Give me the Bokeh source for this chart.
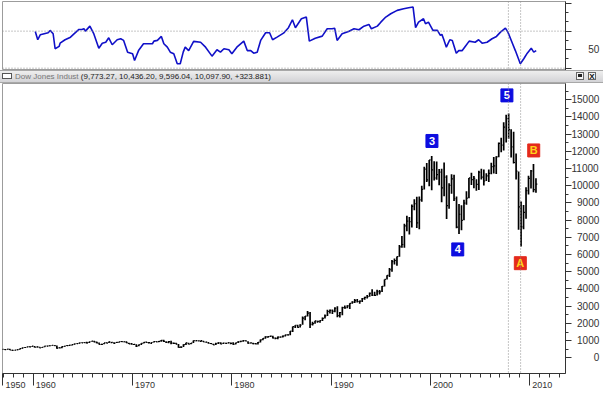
from bokeh.plotting import figure
from bokeh.models import (ColumnDataSource, Range1d, FixedTicker, Span, Div)
from bokeh.layouts import column
from bokeh.core.properties import value
from bokeh.embed import file_html
from bokeh.resources import INLINE

# ---------------- data ----------------
# Dow Jones Industrial Average, quarterly bars, first bar = 1956 Q4
first_quarter = 1956.75
quarter_high = [
    500,
    500, 505, 521, 465,   450, 480, 533, 584,   610, 644, 679, 679,
    686, 656, 650, 622,   680, 705, 726, 735,   726, 712, 616, 653,
    685, 726, 745, 767,   820, 833, 876, 892,   912, 940, 932, 970,
    995, 956, 893, 821,   868, 909, 943, 918,   908, 919, 936, 985,
    952, 968, 873, 863,   811, 792, 773, 842,   904, 950, 920, 893,
    950, 971, 973, 1036,  1051, 963, 979, 987,  891, 870, 806, 674,
    786, 879, 881, 860,   1009, 1011, 1014, 1004, 1000, 936, 918, 856,
    820, 878, 907, 901,   878, 870, 893, 897,   903, 876, 965, 1000,
    1016, 1024, 967, 892, 882, 869, 926, 1070,  1145, 1248, 1260, 1287,
    1286, 1183, 1239, 1244, 1299, 1336, 1372, 1553, 1821, 1893, 1919, 1956,
    2405, 2429, 2722, 2662, 2100, 2157, 2158, 2184, 2347, 2523, 2792, 2810,
    2810, 2935, 3000, 2663, 2972, 3036, 3055, 3169, 3290, 3413, 3413, 3333,
    3478, 3554, 3652, 3794, 3978, 3839, 3953, 3936, 4172, 4556, 4801, 5216,
    5683, 5778, 5895, 6561, 7085, 7796, 8259, 8178, 8906, 9211, 9367, 9374,
    10006, 11107, 11326, 11497, 11723, 11425, 11401, 10977,
    10983, 11350, 10610, 10137, 10673, 10635, 9380, 8932,
    8869, 9188, 9686, 10454, 10753, 10570, 10379, 10868,
    10984, 10940, 10720, 10940, 11335, 11670, 11718, 12510,
    12786, 13692, 14121, 14198, 13279, 13136, 11867, 10831,
    9088, 8877, 9917, 10580, 10907, 11258, 10436,
]
quarter_low = [
    466,
    455, 470, 456, 419,   436, 440, 475, 530,   574, 598, 616, 627,
    599, 599, 580, 566,   610, 672, 679, 700,   689, 535, 557, 558,
    646, 683, 694, 711,   766, 800, 822, 856,   857, 840, 862, 930,
    912, 847, 772, 744,   786, 847, 859, 850,   825, 861, 883, 918,
    899, 869, 801, 769,   744, 631, 669, 753,   830, 873, 839, 797,
    889, 925, 910, 930,   922, 869, 851, 788,   803, 791, 584, 577,
    632, 739, 784, 784,   858, 958, 961, 924,   919, 898, 839, 800,
    742, 750, 805, 785,   807, 822, 836, 796,   759, 777, 865, 908,
    934, 960, 824, 836,   795, 788, 777, 889,   1027, 1113, 1163, 1215,
    1130, 1086, 1087, 1163, 1184, 1242, 1297, 1310, 1502, 1736, 1755, 1768,
    1927, 2190, 2398, 1739, 1879, 1979, 2037, 2038, 2144, 2280, 2437, 2570,
    2543, 2645, 2365, 2344, 2470, 2853, 2878, 2836, 3136, 3181, 3220, 3136,
    3241, 3370, 3449, 3547, 3593, 3593, 3624, 3674, 3832, 4138, 4548, 4703,
    5000, 5420, 5346, 5869, 6391, 6391, 7362, 7161, 7580, 8574, 7539, 7467,
    9066, 9787, 10213, 9976, 9731, 10300, 10350, 10034,
    9047, 9389, 8062, 8659, 9529, 9120, 7532, 7197,
    7416, 7992, 8896, 9275, 10048, 9853, 9708, 9749,
    10368, 10012, 10270, 10215, 10661, 10706, 10683, 11653,
    11939, 12050, 12518, 12724, 11634, 11287, 10365, 7449,
    6470, 7465, 8087, 9487, 9835, 9614, 9596,
]
quarter_close = [
    499,
    474, 503, 456, 435,   446, 478, 532, 584,   602, 644, 632, 679,
    616, 641, 580, 616,   677, 684, 701, 731,   706, 561, 579, 652,
    682, 707, 743, 763,   813, 831, 875, 874,   889, 868, 931, 969,
    924, 870, 774, 785,   865, 860, 927, 905,   840, 898, 935, 943,
    935, 873, 813, 800,   785, 683, 760, 838,   904, 891, 887, 890,
    940, 929, 953, 1020,  951, 891, 947, 851,   846, 802, 608, 616,
    768, 878, 794, 852,   999, 1002, 990, 1004, 919, 916, 847, 831,
    757, 819, 865, 805,   862, 842, 879, 839,   786, 868, 932, 964,
    1004, 977, 850, 875,  823, 812, 896, 1046,  1130, 1222, 1233, 1259,
    1165, 1132, 1207, 1212, 1267, 1336, 1329, 1547, 1819, 1893, 1768, 1896,
    2305, 2419, 2596, 1939, 1989, 2142, 2113, 2169, 2294, 2441, 2693, 2753,
    2708, 2881, 2453, 2634, 2914, 2907, 3017, 3169, 3236, 3319, 3272, 3301,
    3435, 3516, 3555, 3754, 3636, 3625, 3843, 3834, 4158, 4556, 4789, 5117,
    5587, 5655, 5882, 6448, 6584, 7673, 7945, 7908, 8800, 8952, 7843, 9181,
    9786, 10970, 10337, 11497, 10922, 10448, 10651, 10787,
    9879, 10502, 8848, 10022, 10404, 9243, 7592, 8342,
    7992, 8985, 9275, 10454, 10357, 10435, 10080, 10783,
    10504, 10275, 10569, 10718, 11109, 11150, 11679, 12463,
    12354, 13408, 13896, 13265, 12262, 11350, 10851, 8776,
    7609, 8447, 9712, 10428, 10857, 9774, 10098,
]

# oscillator (upper pane)
osc_year = [
    1960.2, 1960.45, 1960.7, 1961.1, 1961.5, 1961.7, 1962.0, 1962.2, 1962.6, 1962.7,
    1963.2, 1963.75, 1964.1, 1964.6, 1964.9, 1965.1, 1965.25, 1965.7, 1966.1, 1966.6,
    1966.95, 1967.3, 1967.6, 1967.95, 1968.45, 1968.8, 1969.1, 1969.5, 1970.0, 1970.2,
    1970.6, 1971.1, 1972.0, 1972.15, 1972.5, 1972.9, 1973.15, 1973.5, 1973.8, 1974.15,
    1974.5, 1974.8, 1975.1, 1975.3, 1975.65, 1976.15, 1976.85, 1977.35, 1978.0, 1978.5,
    1978.85, 1979.2, 1979.7, 1980.0, 1980.5, 1981.2, 1981.55, 1981.9, 1982.2, 1982.55,
    1982.9, 1983.4, 1983.8, 1984.1, 1984.55, 1985.2, 1985.7, 1986.1, 1986.4, 1987.0,
    1987.5, 1987.8, 1988.4, 1989.1, 1989.6, 1990.1, 1990.35, 1990.6, 1991.1, 1991.75,
    1992.3, 1992.8, 1993.3, 1993.8, 1994.05, 1994.65, 1995.0, 1995.5, 1996.0, 1996.65,
    1997.3, 1997.8, 1998.25, 1998.5, 1998.8, 1999.3, 1999.5, 1999.8, 2000.25, 2000.7,
    2001.0, 2001.15, 2001.35, 2001.6, 2001.95, 2002.2, 2002.6, 2002.85, 2003.2, 2003.5,
    2003.9, 2004.5, 2004.85, 2005.2, 2005.7, 2006.2, 2006.65, 2007.05, 2007.55, 2007.8,
    2008.25, 2008.55, 2009.05, 2009.4, 2009.75, 2010.15, 2010.4, 2010.65,
]
osc_value = [
    69.7, 60.7, 66, 67.2, 68.3, 70.8, 67.2, 51, 53.5, 57,
    60.7, 63.5, 67, 71.8, 71.8, 72.6, 70, 75.4, 67, 51.6,
    57, 58, 62.8, 55.3, 60.7, 61.8, 60, 47.3, 45.5, 38.3,
    49, 56.4, 56.4, 59.2, 60, 64.3, 56.4, 52.7, 47.3, 45.5,
    34.8, 34.8, 47.3, 52.7, 49, 58.9, 58, 52.7, 43, 49.9,
    47.3, 51, 49.9, 45.5, 52.7, 59.2, 49, 49, 46.2, 47.3,
    60, 68.3, 68.3, 60.7, 63.5, 67.8, 73.7, 82.3, 73.7, 83.4,
    85.2, 59.2, 62.4, 64.6, 72.6, 72.6, 73.2, 60, 67.2, 69.7,
    72.6, 71.5, 75.4, 77.2, 72.6, 75.4, 79.7, 85.2, 88.8, 92.4,
    94.2, 95.3, 96, 73.7, 79.7, 83.4, 78, 79.7, 70.8, 70.8,
    65.4, 66.5, 60.7, 52.7, 60.7, 60, 46.2, 49, 49, 53.5,
    59.2, 58, 60.7, 57, 58, 61.8, 64.3, 68.9, 73.2, 68.9,
    57, 49, 34.8, 40.2, 46.2, 51.6, 47.3, 49,
]
osc_levels = [70, 30]
osc_ticks = [30, 50, 70, 100]
osc_minor_ticks = [40, 60, 80, 90]
osc_labelled = [50]

price_ticks = list(range(0, 16000, 1000))
price_minor_ticks = list(range(500, 16500, 1000))

decade_ticks = [1950, 1960, 1970, 1980, 1990, 2000, 2010]
decade_labels = ["1950", "1960", "1970", "1980", "1990", "2000", "2010"]
year_ticks = list(range(1957, 2014))

marker_years = [2007.85, 2009.08]

wave_labels = ["3", "4", "5", "A", "B"]
wave_year = [2000.15, 2002.75, 2007.7, 2009.05, 2010.4]
wave_price = [12600, 6300, 15250, 5500, 12050]
wave_fill = ["#0d0de0", "#0d0de0", "#0d0de0", "#e42a1c", "#e42a1c"]
wave_text_color = ["#ffffff", "#ffffff", "#ffffff", "#ffd21a", "#ffd21a"]

title_name = "Dow Jones Indust"
title_values = "(9,773.27, 10,436.20, 9,596.04, 10,097.90, +323.881)"

# ---------------- layout constants ----------------
FONT = "Liberation Sans"
FRAME_W = 563
LEFT = 2
RIGHT = 38
TOTAL_W = LEFT + FRAME_W + RIGHT
x_start, x_end = 1956.9, 2013.6
x_range = Range1d(x_start, x_end)
FIG = "\u2007"   # figure space: same advance as a digit


def pad_right_align(s, n=5):
    return FIG * (n - len(s)) + s


def pad_after_tick(s, n=5):
    # centred label shifted so that the digits start just right of the tick
    return FIG * n + s


def style_axis(ax):
    ax.axis_line_color = "#333333"
    ax.major_tick_line_color = "#333333"
    ax.minor_tick_line_color = "#333333"
    ax.major_tick_in = 0
    ax.minor_tick_in = 0
    ax.major_label_text_font = FONT
    ax.major_label_text_color = "#333333"


# ---------------- upper oscillator pane ----------------
top = figure(x_range=x_range, y_range=Range1d(27.5, 102.0),
             frame_width=FRAME_W, frame_height=69,
             min_border_left=LEFT, min_border_right=RIGHT,
             min_border_top=1, min_border_bottom=0,
             x_axis_location=None, y_axis_location="right",
             output_backend="svg", toolbar_location=None)
top.grid.visible = False
top.outline_line_color = "#9c9c9c"
top.background_fill_color = "white"
top.border_fill_color = "white"
ya = top.yaxis[0]
style_axis(ya)
ya.ticker = FixedTicker(ticks=osc_ticks, minor_ticks=osc_minor_ticks)
ya.major_label_overrides = {t: (pad_right_align(str(t)) if t in osc_labelled else FIG)
                            for t in osc_ticks}
ya.major_tick_out = 6
ya.minor_tick_out = 3
ya.major_label_standoff = 0
ya.major_label_text_font_size = "10px"

for lv in osc_levels:
    top.add_layout(Span(location=lv, dimension="width", line_color="#8c8c8c",
                        line_dash="1 2", line_width=1))
for yr in marker_years:
    top.add_layout(Span(location=yr, dimension="height", line_color="#8c8c8c",
                        line_dash="1 2", line_width=1))
top.line(osc_year, osc_value, line_color="#1010c8", line_width=1.6)

# ---------------- title bar ----------------
bar_html = f"""
<div style="position:relative;width:{TOTAL_W}px;height:13px;box-sizing:border-box;
 background:linear-gradient(#eeeeee,#d3d3d6);border-top:1px solid #a8a8a8;border-bottom:1px solid #a8a8a8;
 font-family:'{FONT}',Arial,sans-serif;font-size:8px;line-height:11px;white-space:nowrap;overflow:hidden;">
 <span style="position:absolute;left:2px;top:2px;width:10px;height:6px;border:1px solid #555;background:#fff;"></span>
 <span style="position:absolute;left:15px;top:0px;"><span style="color:#777777;">{title_name}</span> <span style="color:#222222;">{title_values}</span></span>
 <span style="position:absolute;left:576px;top:1px;width:8px;height:8px;border:1px solid #666;background:#f4f4f4;">
   <span style="position:absolute;left:1px;top:1px;width:4px;height:3px;border:1px solid #222;border-top-width:2px;"></span></span>
 <span style="position:absolute;left:588px;top:1px;width:8px;height:8px;border:1px solid #666;background:#f4f4f4;
   font-size:8px;line-height:8px;text-align:center;font-weight:bold;color:#111;">X</span>
</div>
"""
bar = Div(text=bar_html, width=TOTAL_W, height=13, margin=(0, 0, 0, 0))

# ---------------- main price pane ----------------
y_start, y_end = -910, 15940
p = figure(x_range=x_range, y_range=Range1d(y_start, y_end),
           frame_width=FRAME_W, frame_height=290,
           min_border_left=LEFT, min_border_right=RIGHT,
           min_border_top=0, min_border_bottom=19,
           y_axis_location="right",
           output_backend="svg", toolbar_location=None)
p.grid.visible = False
p.outline_line_color = "#9c9c9c"
p.background_fill_color = "white"
p.border_fill_color = "white"

yax = p.yaxis[0]
style_axis(yax)
yax.ticker = FixedTicker(ticks=price_ticks, minor_ticks=price_minor_ticks)
yax.major_label_overrides = {t: pad_right_align(str(t)) for t in price_ticks}
yax.major_tick_out = 6
yax.minor_tick_out = 3
yax.major_label_standoff = 0
yax.major_label_text_font_size = "10px"

decade_pos = [max(d, x_start) for d in decade_ticks]
xax = p.xaxis[0]
style_axis(xax)
xax.ticker = FixedTicker(ticks=decade_pos, minor_ticks=year_ticks)
# labels are kept inside the canvas, so the label at the axis start needs less padding
xax.major_label_overrides = {pos: pad_after_tick(lab, 5 if pos > x_start else 1)
                             for pos, lab in zip(decade_pos, decade_labels)}
xax.major_tick_out = 12
xax.minor_tick_out = 4
xax.major_label_standoff = -6
xax.major_label_text_font_size = "9px"

for yr in marker_years:
    p.add_layout(Span(location=yr, dimension="height", line_color="#8c8c8c",
                      line_dash="1 2", line_width=1))

bar_x = [first_quarter + 0.25 * i + 0.125 for i in range(len(quarter_close))]
src = ColumnDataSource(dict(x=bar_x, hi=quarter_high, lo=quarter_low, cl=quarter_close,
                            xr=[v + 0.14 for v in bar_x]))
p.segment(x0="x", y0="lo", x1="x", y1="hi", source=src, line_color="black", line_width=1.7)
p.segment(x0="x", y0="cl", x1="xr", y1="cl", source=src, line_color="black", line_width=1.2)

wsrc = ColumnDataSource(dict(x=wave_year, y=wave_price, t=wave_labels,
                             fill=wave_fill, tc=wave_text_color))
p.rect(x="x", y="y", width=12, height=13, width_units="screen", height_units="screen",
       source=wsrc, fill_color="fill", line_color="fill")
p.text(x="x", y="y", text="t", source=wsrc, text_color="tc",
       text_font=value(FONT), text_font_style="bold", text_font_size="11px",
       text_align="center", text_baseline="middle")

layout = column(top, bar, p, spacing=0)
open("out.html", "w").write(file_html(layout, INLINE))
